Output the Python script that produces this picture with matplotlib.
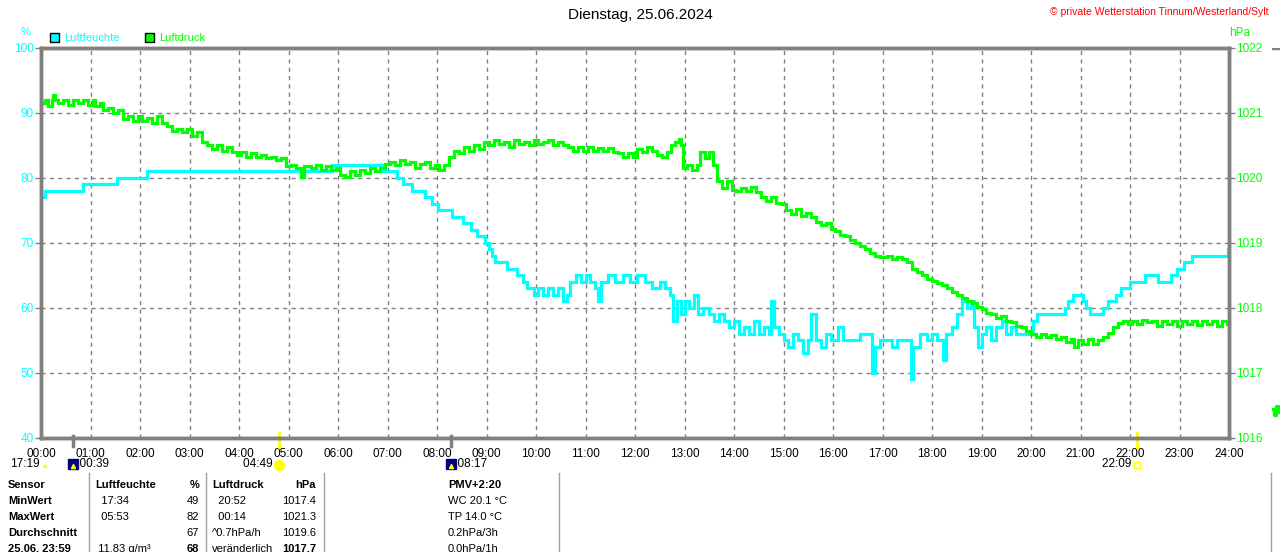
import matplotlib
matplotlib.use('Agg')
import matplotlib.pyplot as plt
import matplotlib.transforms as mtransforms
from matplotlib.patches import Rectangle
from matplotlib.lines import Line2D

plt.rcParams['font.family'] = ['Liberation Sans', 'DejaVu Sans']

CYAN = '#00ffff'
GREEN = '#00ff00'
GRAY = '#808080'
YELLOW = '#ffff00'
NAVY = '#000080'

# Luftfeuchte (%), Stunden / Werte (Stufen)
hum_t = [0.00, 0.08, 0.85, 1.54, 2.14, 5.88, 6.91, 7.19, 7.31, 7.49, 7.76, 7.90, 8.02, 8.30,
         8.53, 8.69, 8.81, 8.97, 9.05, 9.11, 9.17, 9.41, 9.62, 9.74, 9.82, 9.95, 10.05, 10.15,
         10.25, 10.35, 10.45, 10.55, 10.62, 10.69, 10.80, 10.90, 11.00, 11.10, 11.20, 11.25,
         11.32, 11.45, 11.60, 11.75, 11.90, 12.05, 12.20, 12.35, 12.50, 12.60, 12.70, 12.77,
         12.85, 12.92, 13.00, 13.10, 13.20, 13.28, 13.38, 13.50, 13.60, 13.70, 13.80, 13.90,
         14.00, 14.10, 14.20, 14.30, 14.40, 14.50, 14.60, 14.70, 14.75, 14.80, 14.90, 15.00,
         15.10, 15.20, 15.30, 15.40, 15.50, 15.55, 15.65, 15.75, 15.85, 15.95, 16.10, 16.20,
         16.40, 16.55, 16.79, 16.85, 16.95, 17.10, 17.20, 17.30, 17.45, 17.57, 17.62, 17.75,
         17.90, 18.00, 18.10, 18.22, 18.28, 18.40, 18.50, 18.60, 18.70, 18.78, 18.85, 18.92,
         19.00, 19.10, 19.20, 19.30, 19.41, 19.50, 19.60, 19.70, 20.05, 20.12, 20.69, 20.75,
         20.85, 21.05, 21.12, 21.20, 21.45, 21.56, 21.72, 21.82, 22.00, 22.30, 22.56, 22.82,
         22.95, 23.10, 23.25, 23.98, 24.00]
hum_v = [77, 78, 79, 80, 81, 82, 81, 80, 79, 78, 77, 76, 75, 74,
         73, 72, 71, 70, 69, 68, 67, 66, 65, 64, 63, 62, 63, 62,
         63, 62, 63, 61, 62, 64, 65, 64, 65, 64, 63, 61,
         64, 65, 64, 65, 64, 65, 64, 63, 64, 63, 62, 58,
         61, 59, 61, 60, 62, 59, 60, 59, 58, 59, 58, 57,
         58, 56, 57, 56, 58, 56, 57, 56, 61, 57, 56, 55,
         54, 56, 55, 53, 55, 59, 55, 54, 56, 55, 57, 55,
         55, 56, 50, 54, 55, 55, 54, 55, 55, 49, 54, 56,
         55, 56, 55, 52, 56, 57, 59, 61, 60, 61, 57, 54,
         56, 57, 55, 57, 58, 56, 57, 56, 58, 59, 60, 61,
         62, 61, 60, 59, 60, 61, 62, 63, 64, 65, 64, 65,
         66, 67, 68, 69, 69]

# Luftdruck (hPa)
pres_t = [0.00, 0.08, 0.15, 0.22, 0.24, 0.28, 0.35, 0.45, 0.55, 0.65, 0.75, 0.85, 0.95, 1.05,
          1.10, 1.20, 1.25, 1.35, 1.45, 1.55, 1.65, 1.75, 1.85, 1.95, 2.05, 2.15, 2.25, 2.35,
          2.45, 2.55, 2.65, 2.75, 2.85, 2.95, 3.05, 3.15, 3.25, 3.35, 3.45, 3.55, 3.65, 3.75,
          3.85, 3.95, 4.05, 4.15, 4.25, 4.35, 4.45, 4.55, 4.65, 4.75, 4.85, 4.95, 5.05, 5.15,
          5.25, 5.32, 5.45, 5.55, 5.65, 5.75, 5.85, 5.95, 6.05, 6.15, 6.25, 6.35, 6.45, 6.55,
          6.65, 6.75, 6.85, 6.95, 7.05, 7.15, 7.25, 7.35, 7.45, 7.55, 7.65, 7.75, 7.85, 7.95,
          8.05, 8.15, 8.25, 8.35, 8.45, 8.55, 8.65, 8.75, 8.85, 8.95, 9.05, 9.15, 9.25, 9.35,
          9.45, 9.55, 9.65, 9.75, 9.85, 9.95, 10.05, 10.15, 10.25, 10.35, 10.45, 10.55, 10.65,
          10.75, 10.85, 10.95, 11.05, 11.15, 11.25, 11.35, 11.45, 11.55, 11.65, 11.75, 11.85,
          11.95, 12.05, 12.15, 12.25, 12.35, 12.45, 12.55, 12.65, 12.72, 12.80, 12.88, 12.92,
          12.96, 13.05, 13.15, 13.25, 13.32, 13.42, 13.50, 13.58, 13.65, 13.75, 13.85, 13.95,
          14.05, 14.15, 14.25, 14.35, 14.45, 14.55, 14.65, 14.75, 14.85, 14.95, 15.05, 15.15,
          15.25, 15.35, 15.45, 15.55, 15.65, 15.75, 15.85, 15.95, 16.05, 16.15, 16.25, 16.35,
          16.45, 16.55, 16.65, 16.75, 16.85, 16.95, 17.10, 17.20, 17.30, 17.40, 17.50, 17.60,
          17.70, 17.80, 17.90, 18.00, 18.10, 18.20, 18.30, 18.40, 18.50, 18.60, 18.70, 18.80,
          18.90, 19.00, 19.10, 19.20, 19.30, 19.40, 19.50, 19.60, 19.70, 19.80, 19.90, 20.00,
          20.10, 20.20, 20.30, 20.40, 20.50, 20.60, 20.70, 20.80, 20.87, 20.95, 21.05, 21.15,
          21.25, 21.35, 21.45, 21.55, 21.65, 21.75, 21.85, 21.95, 22.05, 22.15, 22.25, 22.35,
          22.45, 22.55, 22.65, 22.75, 22.85, 22.95, 23.05, 23.15, 23.25, 23.35, 23.45, 23.55,
          23.65, 23.75, 23.85, 23.95, 24.00]
pres_v = [1021.15, 1021.2, 1021.1, 1021.2, 1021.28, 1021.2, 1021.15, 1021.2, 1021.13, 1021.2,
          1021.15, 1021.2, 1021.12, 1021.2, 1021.1, 1021.15, 1021.05, 1021.08, 1021.0, 1021.05,
          1020.9, 1020.95, 1020.88, 1020.95, 1020.88, 1020.92, 1020.85, 1020.95, 1020.85, 1020.8,
          1020.72, 1020.75, 1020.7, 1020.75, 1020.65, 1020.7, 1020.55, 1020.5, 1020.45, 1020.5,
          1020.42, 1020.48, 1020.4, 1020.36, 1020.4, 1020.33, 1020.38, 1020.33, 1020.36, 1020.3,
          1020.33, 1020.28, 1020.3, 1020.18, 1020.2, 1020.15, 1020.02, 1020.18, 1020.15, 1020.2,
          1020.12, 1020.18, 1020.12, 1020.15, 1020.05, 1020.02, 1020.1, 1020.05, 1020.12, 1020.08,
          1020.15, 1020.1, 1020.15, 1020.22, 1020.25, 1020.2, 1020.28, 1020.22, 1020.25, 1020.15,
          1020.22, 1020.25, 1020.15, 1020.2, 1020.12, 1020.2, 1020.32, 1020.42, 1020.38, 1020.48,
          1020.42, 1020.5, 1020.45, 1020.55, 1020.5, 1020.58, 1020.52, 1020.55, 1020.48, 1020.58,
          1020.52, 1020.55, 1020.5, 1020.58, 1020.52, 1020.55, 1020.58, 1020.5, 1020.55, 1020.5,
          1020.48, 1020.42, 1020.47, 1020.42, 1020.47, 1020.42, 1020.46, 1020.42, 1020.46, 1020.4,
          1020.38, 1020.33, 1020.38, 1020.33, 1020.45, 1020.4, 1020.47, 1020.42, 1020.36, 1020.32,
          1020.4, 1020.5, 1020.55, 1020.6, 1020.5, 1020.15, 1020.2, 1020.12, 1020.2, 1020.4,
          1020.3, 1020.4, 1020.2, 1019.95, 1019.85, 1019.95, 1019.82, 1019.8, 1019.85, 1019.8,
          1019.86, 1019.78, 1019.7, 1019.65, 1019.7, 1019.62, 1019.6, 1019.5, 1019.45, 1019.52,
          1019.42, 1019.46, 1019.4, 1019.33, 1019.28, 1019.3, 1019.22, 1019.18, 1019.12, 1019.1,
          1019.05, 1019.0, 1018.95, 1018.9, 1018.85, 1018.8, 1018.78, 1018.8, 1018.76, 1018.78,
          1018.76, 1018.7, 1018.6, 1018.55, 1018.5, 1018.45, 1018.42, 1018.38, 1018.35, 1018.3,
          1018.25, 1018.2, 1018.15, 1018.1, 1018.08, 1018.02, 1017.98, 1017.93, 1017.9, 1017.85,
          1017.88, 1017.8, 1017.78, 1017.72, 1017.7, 1017.65, 1017.6, 1017.55, 1017.6, 1017.55,
          1017.58, 1017.52, 1017.55, 1017.48, 1017.52, 1017.4, 1017.5, 1017.45, 1017.52, 1017.45,
          1017.5, 1017.55, 1017.62, 1017.7, 1017.77, 1017.8, 1017.75, 1017.8, 1017.76, 1017.82,
          1017.78, 1017.8, 1017.72, 1017.8, 1017.76, 1017.8, 1017.72, 1017.8, 1017.76, 1017.8,
          1017.74, 1017.8, 1017.76, 1017.8, 1017.73, 1017.8, 1017.75, 1017.7]

hours = list(range(25))
hour_labels = ['%02d:00' % h for h in hours]
hum_ticks = [40, 50, 60, 70, 80, 90, 100]
pres_ticks = [1016, 1017, 1018, 1019, 1020, 1021, 1022]

moon_times = [0 + 39 / 60, 8 + 17 / 60]
moon_labels = ['00:39', '08:17']
sun_times = [4 + 49 / 60, 22 + 9 / 60]
sun_labels = ['04:49', '22:09']

table_rows = [
    ['Sensor', 'Luftfeuchte', '%', 'Luftdruck', 'hPa', 'PMV+2:20'],
    ['MinWert', '  17:34', '49', '  20:52', '1017.4', 'WC 20.1 °C'],
    ['MaxWert', '  05:53', '82', '  00:14', '1021.3', 'TP 14.0 °C'],
    ['Durchschnitt', '', '67', '^0.7hPa/h', '1019.6', '0.2hPa/3h'],
    ['25.06. 23:59', ' 11.83 g/m³', '68', 'veränderlich', '1017.7', '0.0hPa/1h'],
]

W, H = 1280, 552
fig = plt.figure(figsize=(12.8, 5.52), dpi=100)
ax = fig.add_axes([41 / W, 1 - 438 / H, (1229 - 41) / W, (438 - 48) / H])
ax2 = ax.twinx()

ax.plot(hum_t, hum_v, color=CYAN, lw=2.3, drawstyle='steps-post', solid_joinstyle='miter')
ax2.plot(pres_t, pres_v, color=GREEN, lw=2.3, drawstyle='steps-post', solid_joinstyle='miter')

ax.set_xlim(0, 24)
ax.set_ylim(40, 100)
ax2.set_ylim(1016, 1022)
ax.set_xticks(hours)
ax.set_xticklabels(hour_labels, fontsize=8.5)
ax.set_yticks(hum_ticks)
ax.set_yticklabels([str(v) for v in hum_ticks], fontsize=8.5, color=CYAN)
ax2.set_yticks(pres_ticks)
ax2.set_yticklabels([str(v) for v in pres_ticks], fontsize=8.5, color=GREEN)

ax.tick_params(axis='x', length=0, pad=7)
ax.tick_params(axis='y', length=4, width=1, color=GRAY, pad=1)
ax2.tick_params(axis='y', length=4, width=1, color=GRAY, pad=1)
ax.grid(True, color=GRAY, lw=1, ls=(0, (3, 3)))

for a in (ax, ax2):
    for s in a.spines.values():
        s.set_color(GRAY)
        s.set_linewidth(2.5)

fig.text(0.5, 1 - 15 / H, 'Dienstag, 25.06.2024', ha='center', va='center', fontsize=11)
fig.text(1268 / W, 1 - 12 / H, '© private Wetterstation Tinnum/Westerland/Sylt',
         ha='right', va='center', fontsize=7.5, color='#ff0000')
fig.text(26 / W, 1 - 32 / H, '%', ha='center', va='center', fontsize=8, color=CYAN)
fig.text(1240 / W, 1 - 33 / H, 'hPa', ha='center', va='center', fontsize=8.5, color=GREEN)

# Legende
for x0, col, name in [(50, CYAN, 'Luftfeuchte'), (145, GREEN, 'Luftdruck')]:
    fig.patches.append(Rectangle((x0 / W, 1 - 42 / H), 9 / W, 9 / H, transform=fig.transFigure,
                                 facecolor=col, edgecolor='black', lw=1))
    fig.text((x0 + 14) / W, 1 - 38 / H, name, ha='left', va='center', fontsize=8, color=col)

# Mond / Sonne Ereignisse
trans = mtransforms.blended_transform_factory(ax.transData, fig.transFigure)
for t, lab in zip(moon_times, moon_labels):
    ax.add_line(Line2D([t, t], [1 - 446 / H, 1 - 436 / H], transform=trans, color=GRAY,
                       lw=2.5, clip_on=False))
    ax.plot([t], [1 - 464 / H], marker='s', ms=7, color=NAVY, transform=trans, clip_on=False)
    ax.plot([t], [1 - 466 / H], marker='^', ms=3, color=YELLOW, transform=trans, clip_on=False)
    fig.text(t, 1 - 464 / H, '  ' + lab, transform=trans, ha='left', va='center', fontsize=8.5)
for t, lab in zip(sun_times, sun_labels):
    ax.add_line(Line2D([t, t], [1 - 447 / H, 1 - 433 / H], transform=trans, color=YELLOW,
                       lw=2, clip_on=False))
    fig.text(t, 1 - 464 / H, lab + '  ', transform=trans, ha='right', va='center', fontsize=8.5)
ax.plot([sun_times[0]], [1 - 465 / H], marker='o', ms=7, color=YELLOW, transform=trans,
        clip_on=False)
ax.plot([sun_times[1]], [1 - 465 / H], marker='s', ms=5, mfc='none', mec=YELLOW, mew=1,
        transform=trans, clip_on=False)
fig.text(10 / W, 1 - 464 / H, '17:19', ha='left', va='center', fontsize=8.5)
fig.text(44 / W, 1 - 466 / H, '▲', ha='center', va='center', fontsize=6, color=YELLOW)

# Tabelle
col_x = [8, 95, 199, 212, 316, 448]
col_ha = ['left', 'left', 'right', 'left', 'right', 'left']
row_y = [485, 501, 517, 533, 549]
for r, row in enumerate(table_rows):
    for c, txt in enumerate(row):
        bold = r == 0 or c == 0 or (r == 4 and c in (2, 4))
        if r == 0 and c == 5:
            bold = True
        fig.text(col_x[c] / W, 1 - row_y[r] / H, txt, ha=col_ha[c], va='center',
                 fontsize=8, fontweight='bold' if bold else 'normal')
for xs in [89, 206, 324, 559, 1271]:
    fig.add_artist(Line2D([xs / W, xs / W], [0, 1 - 473 / H], color='#a0a0a0', lw=1))

# Anfang des naechsten Diagramms am rechten Rand
ax3 = fig.add_axes([1272 / W, 1 - 438 / H, 8 / W, (438 - 48) / H])
ax3.set_ylim(1016, 1022)
ax3.set_xlim(0, 4)
ax3.plot([0.3, 1, 2, 3, 4], [1016.45, 1016.35, 1016.5, 1016.4, 1016.45], color=GREEN, lw=2.3,
         drawstyle='steps-post')
ax3.set_axis_off()
ax3.add_line(Line2D([0, 4], [1022, 1022], color=GRAY, lw=2.5))

fig.savefig('out.png', dpi=100)
